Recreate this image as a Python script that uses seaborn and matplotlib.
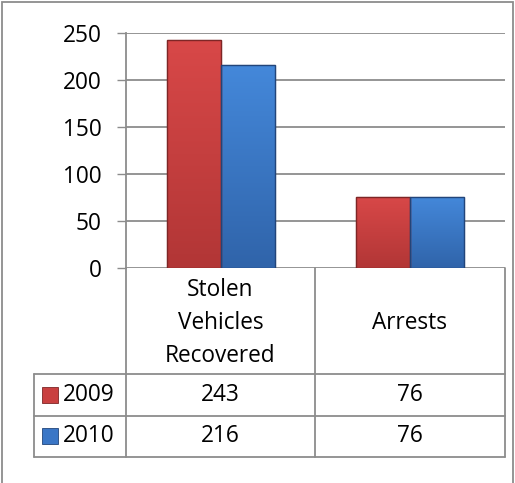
import numpy as np
import pandas as pd
import matplotlib
matplotlib.use("Agg")
import matplotlib.pyplot as plt
from matplotlib.lines import Line2D
from matplotlib.patches import Rectangle
from matplotlib.colors import LinearSegmentedColormap
import seaborn as sns

categories = ["Stolen\nVehicles\nRecovered", "Arrests"]
years = ["2009", "2010"]
values_2009 = [243, 76]
values_2010 = [216, 76]
yticks = [0, 50, 100, 150, 200, 250]

colors = {"2009": "#C94040", "2010": "#3A76C6"}
grads = {"2009": ("#D84848", "#B23636"), "2010": ("#4488DA", "#3064AA")}
edges = {"2009": "#7e2626", "2010": "#22457a"}

df = pd.DataFrame({
    "category": categories * 2,
    "year": [years[0]] * 2 + [years[1]] * 2,
    "value": values_2009 + values_2010,
})

sns.set_theme(style="white")
plt.rcParams["font.family"] = ["Open Sans", "DejaVu Sans"]
FS = 16.3

W, H = 515, 483
fig = plt.figure(figsize=(W / 100, H / 100), dpi=100)
fig.patch.set_facecolor("white")

def fx(x):
    return x / W

def fy(y):
    return 1 - y / H

L, R, T, B = 126, 505, 33, 268
ax = fig.add_axes([fx(L), fy(B), fx(R) - fx(L), fy(T) - fy(B)])
sns.barplot(data=df, x="category", y="value", hue="year", palette=colors,
            width=0.57, ax=ax, legend=False, linewidth=0.8, zorder=3)
ax.set_ylim(0, 250)
ax.set_xlim(-0.5, 1.5)
ax.set_yticks(yticks)
ax.set_xticks([])
ax.set_xlabel("")
ax.set_ylabel("")
ax.grid(axis="y", color="#8C8C8C", linewidth=1.3, zorder=0)
for s in ["top", "right", "bottom"]:
    ax.spines[s].set_visible(False)
ax.spines["left"].set_color("#8C8C8C")
ax.spines["left"].set_linewidth(1.3)
ax.tick_params(axis="y", length=6.5, width=1.0, color="#8C8C8C", pad=11,
               labelsize=FS, labelcolor="black", left=True)

# gradient overlay on bars
n = len(categories) * len(years)
for i, patch in enumerate(ax.patches[:n]):
    yr = years[i // len(categories)]
    patch.set_edgecolor(edges[yr])
    x0, y0 = patch.get_x(), patch.get_y()
    w, h = patch.get_width(), patch.get_height()
    cmap = LinearSegmentedColormap.from_list("g", [grads[yr][1], grads[yr][0]])
    grad = np.linspace(0, 1, 100).reshape(-1, 1)
    im = ax.imshow(grad, cmap=cmap, extent=[x0, x0 + w, y0, y0 + h],
                   origin="lower", aspect="auto", zorder=3.2)
    im.set_clip_path(patch)
    ax.add_patch(Rectangle((x0, y0), w, h, fill=False, edgecolor=edges[yr],
                           linewidth=1.0, zorder=3.4))
ax.set_xlim(-0.5, 1.5)
ax.set_ylim(0, 250)

# outer border
fig.add_artist(Rectangle((fx(2), fy(490)), fx(513) - fx(2), fy(2) - fy(490),
                         transform=fig.transFigure, fill=False,
                         edgecolor="#8C8C8C", linewidth=1.3))

# table lines
lc = "#8C8C8C"
def hline(y, x0, x1):
    fig.add_artist(Line2D([fx(x0), fx(x1)], [fy(y), fy(y)], transform=fig.transFigure,
                          color=lc, linewidth=1.3))

def vline(x, y0, y1):
    fig.add_artist(Line2D([fx(x), fx(x)], [fy(y0), fy(y1)], transform=fig.transFigure,
                          color=lc, linewidth=1.3))

hline(374, 34, 505)
hline(416, 34, 505)
hline(457, 34, 505)
vline(126, 268, 457)
vline(315, 268, 457)
vline(505, 268, 457)
vline(34, 374, 457)

col_centers = [220.5, 410]
for c, cat in zip(col_centers, categories):
    fig.text(fx(c), fy(323), cat, ha="center", va="center", fontsize=FS,
             linespacing=1.5, color="black")

row_centers = [395, 436]
series = [values_2009, values_2010]
for r, yr, vals in zip(row_centers, years, series):
    fig.add_artist(Rectangle((fx(42), fy(r + 8)), fx(58) - fx(42), fy(r - 8) - fy(r + 8),
                             transform=fig.transFigure, facecolor=colors[yr],
                             edgecolor=edges[yr], linewidth=0.6))
    fig.text(fx(63), fy(r), yr, ha="left", va="center", fontsize=FS, color="black")
    for c, v in zip(col_centers, vals):
        fig.text(fx(c), fy(r), str(v), ha="center", va="center", fontsize=FS, color="black")

fig.savefig("out.png", dpi=100)
